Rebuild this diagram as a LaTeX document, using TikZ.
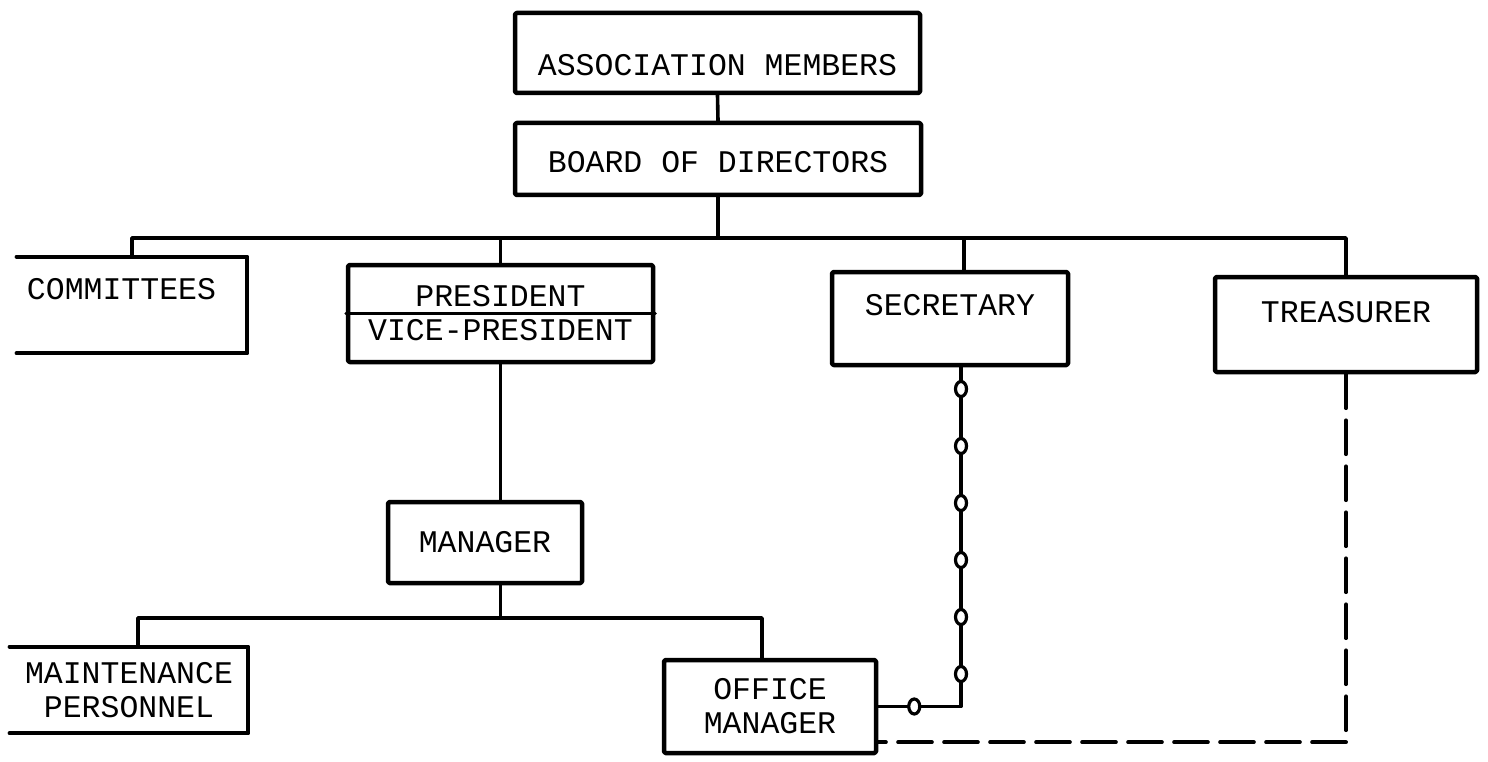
\documentclass[tikz,border=0pt]{standalone}
\usepackage{fontspec}
\newfontfamily\typefont{Liberation Mono}
\usetikzlibrary{calc}
\tikzset{
  box/.style={draw, line width=4.5pt, rounded corners=1.5pt, inner sep=0pt, align=center},
  openbox/.style={inner ysep=0pt, inner xsep=10pt},
  conn/.style={line width=3.6pt},
  ring/.style={line width=3.2pt, fill=white},
  dashln/.style={line width=3.6pt, dash pattern=on 34pt off 12pt}
}
\begin{document}
\begin{tikzpicture}[x=1pt, y=-1pt, font=\typefont\fontsize{31.5}{34}\selectfont, line join=round, line cap=round]
  \useasboundingbox (0,0) rectangle (1488,762);
  % boxes
  \node[box, minimum width=405, text height=62.5, text depth=17.5] (assoc) at (717.5,53) {ASSOCIATION MEMBERS};
  \node[box, minimum width=406, text height=49.5, text depth=22.5] (board) at (718,159) {BOARD OF DIRECTORS};
  \node[openbox, text width=210, align=left, text height=42.5, text depth=53.5] (comm) at (132,305) {COMMITTEES};
  \node[box, minimum width=305, minimum height=97] (pres) at (500.5,313.5) {PRESIDENT\\VICE-PRESIDENT};
  \node[box, minimum width=236, text height=43.5, text depth=49.5] (secr) at (950,318.5) {SECRETARY};
  \node[box, minimum width=262, text height=45.5, text depth=49.5] (treas) at (1346,324.5) {TREASURER};
  \node[box, minimum width=194, minimum height=81] (mgr) at (485,542.5) {MANAGER};
  \node[inner sep=0pt, align=center, minimum width=238, minimum height=86] (maint) at (129,690) {MAINTENANCE\\PERSONNEL};
  \node[box, minimum width=212, minimum height=93] (offm) at (770,706.5) {OFFICE\\MANAGER};
  % open boxes on the left edge
  \draw[line width=4.5pt] (comm.north west) -- (comm.north east) -- (comm.south east) -- (comm.south west);
  \draw[line width=4.5pt] (maint.north west) -- (maint.north east) -- (maint.south east) -- (maint.south west);
  \draw[line width=3pt] (pres.west) -- (pres.east);
  % lines of authority
  \coordinate (bus) at (0,238);
  \coordinate (lowbus) at (0,618);
  \coordinate (secrtop) at ($(secr.north)+(14,0)$);
  \coordinate (secrbot) at ($(secr.south)+(11,0)$);
  \coordinate (maintop) at ($(maint.north)+(9,0)$);
  \coordinate (offtop) at ($(offm.north)+(-8,0)$);
  \draw[conn] (assoc.south) -- (board.north);
  \draw[conn] (board.south) -- (board.south |- bus);
  \draw[conn] (comm.north) |- (bus -| treas.north) -- (treas.north);
  \draw[conn] (pres.north) -- (pres.north |- bus);
  \draw[conn] (secrtop) -- (secrtop |- bus);
  \draw[conn] (pres.south) -- (pres.south |- mgr.north);
  \draw[conn] (mgr.south -| pres.south) -- (pres.south |- lowbus);
  \draw[conn] (maintop) |- (lowbus -| offtop) -- (offtop);
  % secretary to office manager
  \draw[conn] (secrbot) |- (offm.east);
  \foreach \y in {389,446,...,674}
    \draw[ring] (secrbot |- 0,\y) ellipse (5.5 and 7.5);
  \draw[ring] ($(offm.east)+(36,0)$) ellipse (5.5 and 7.5);
  % treasurer to office manager
  \draw[dashln] (treas.south) |- ($(offm.south east)+(0,-13)$);
\end{tikzpicture}
\end{document}
